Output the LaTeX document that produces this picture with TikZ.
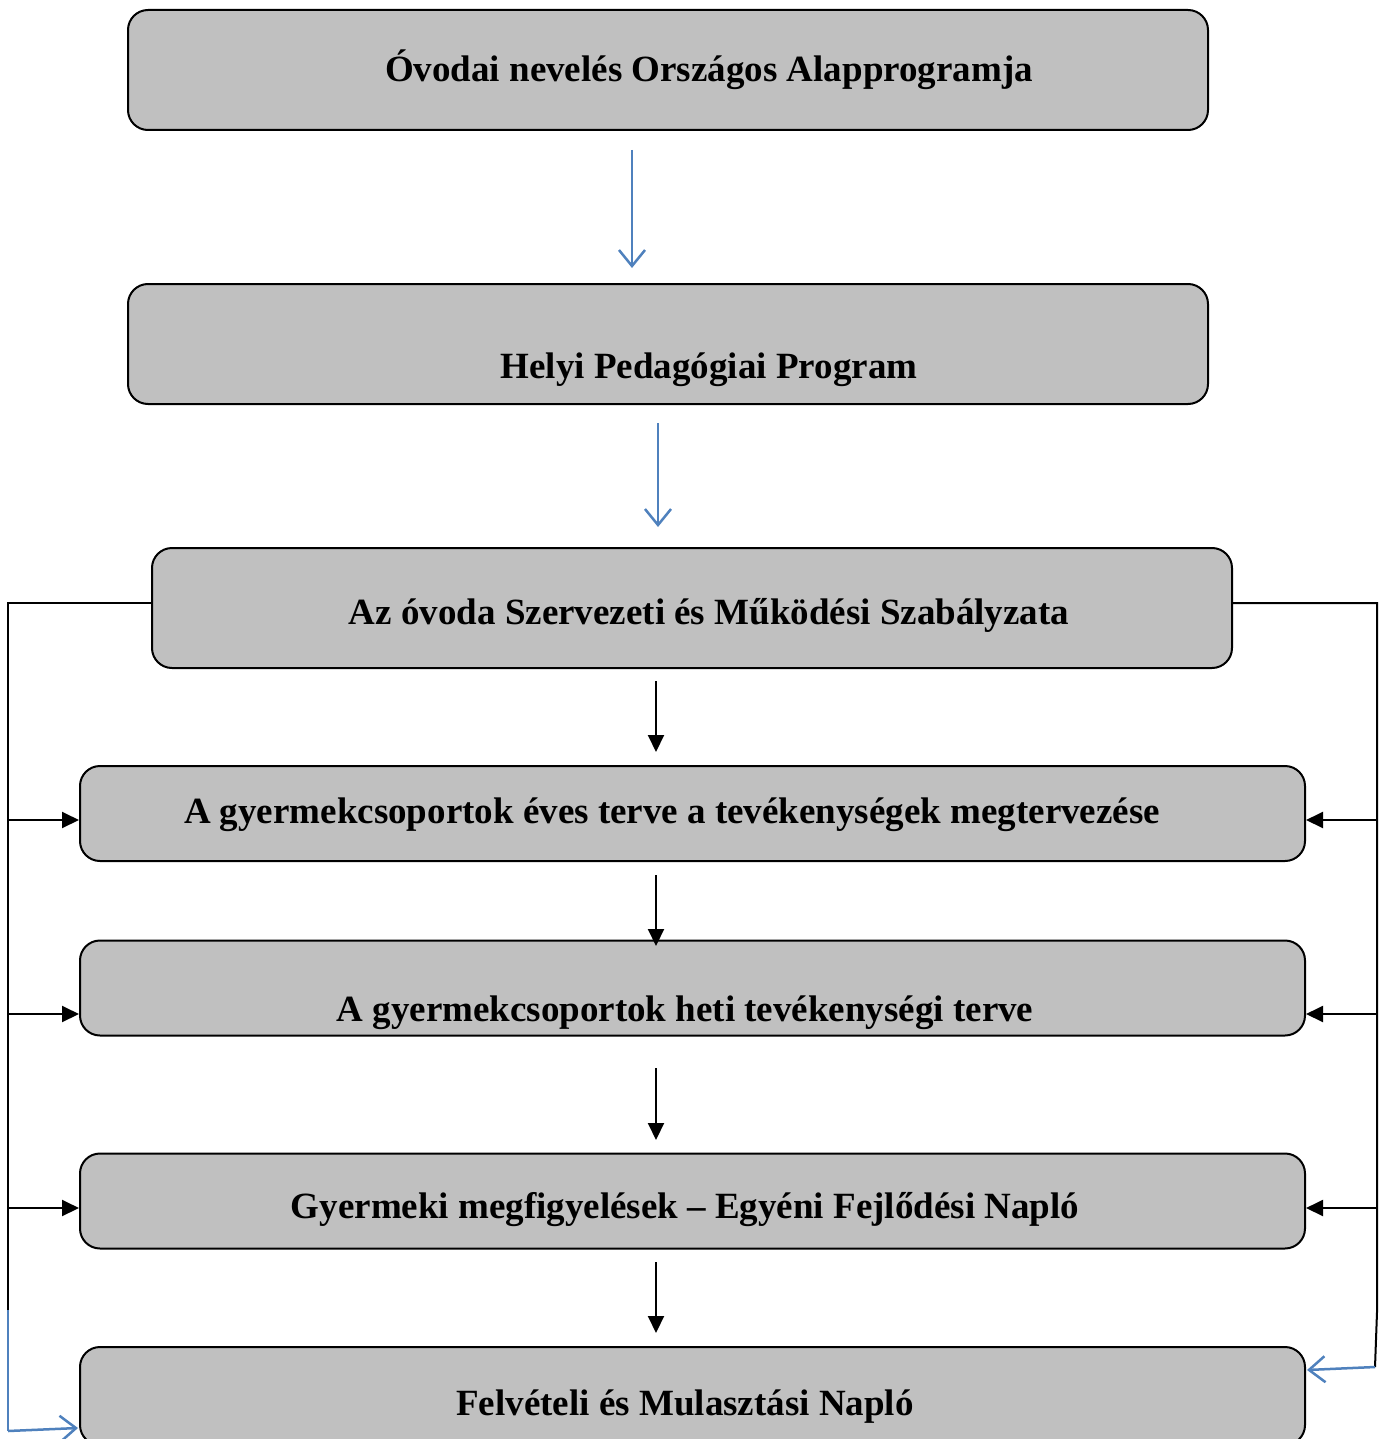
\documentclass[tikz,border=0pt]{standalone}
\usepackage{fontspec}
\setmainfont{Liberation Serif}
\usetikzlibrary{arrows.meta}
\definecolor{boxgray}{RGB}{192,192,192}
\definecolor{arrblue}{RGB}{79,129,189}
\tikzset{
  box/.style={draw=black, line width=2pt, fill=boxgray, rounded corners=20pt, inner sep=0pt},
  lbl/.style={font=\bfseries\fontsize{37}{44}\selectfont, inner sep=0pt, anchor=base},
  blk/.style={draw=black, line width=2pt, -{Triangle[length=17pt,width=16pt]}},
  blkline/.style={draw=black, line width=2pt},
  blu/.style={draw=arrblue, line width=2.5pt, -{Straight Barb[length=16pt,width=26pt,line width=2.5pt]}},
  bluline/.style={draw=arrblue, line width=2.5pt}
}
\begin{document}
\begin{tikzpicture}[x=1pt,y=-1pt]
\clip (0,0) rectangle (1385,1439);
\fill[white] (0,0) rectangle (1385,1439);
% boxes
\node[box, minimum width=1080pt, minimum height=120pt] (b1) at (668,70) {};
\node[box, minimum width=1080pt, minimum height=120pt] (b2) at (668,344) {};
\node[box, minimum width=1080pt, minimum height=120pt] (b3) at (692,608) {};
\node[box, minimum width=1225pt, minimum height=95pt] (b4) at (692.5,813.5) {};
\node[box, minimum width=1225pt, minimum height=95pt] (b5) at (692.5,988) {};
\node[box, minimum width=1225pt, minimum height=95pt] (b6) at (692.5,1201) {};
\node[box, minimum width=1225pt, minimum height=98pt] (b7) at (692.5,1396) {};
% labels
\node[lbl] (t1) at (709,82) {Óvodai nevelés Országos Alapprogramja};
\node[lbl] (t2) at (709,378) {Helyi Pedagógiai Program};
\node[lbl] (t3) at (709,624) {Az óvoda Szervezeti és Működési Szabályzata};
\node[lbl] (t4) at (672,823) {A gyermekcsoportok éves terve a tevékenységek megtervezése};
\node[lbl] (t5) at (685,1021) {A gyermekcsoportok heti tevékenységi terve};
\node[lbl] (t6) at (685,1218) {Gyermeki megfigyelések – Egyéni Fejlődési Napló};
\node[lbl] (t7) at (685,1415) {Felvételi és Mulasztási Napló};
% coordinates
\coordinate (a1s) at (632,150); \coordinate (a1e) at (632,268);
\coordinate (a2s) at (658,423); \coordinate (a2e) at (658,527);
\coordinate (a3s) at (656,681); \coordinate (a3e) at (656,752);
\coordinate (a4s) at (656,875); \coordinate (a4e) at (656,946);
\coordinate (a5s) at (656,1068); \coordinate (a5e) at (656,1140);
\coordinate (a6s) at (656,1262); \coordinate (a6e) at (656,1333);
\coordinate (L0) at (8,603);
\coordinate (L4) at (8,820);
\coordinate (L5) at (8,1014);
\coordinate (L6) at (8,1208);
\coordinate (Lb) at (8,1310);
\coordinate (Lc) at (8,1431);
\coordinate (R0) at (1377,603);
\coordinate (R4) at (1377,820);
\coordinate (R5) at (1377,1014);
\coordinate (R6) at (1377,1208);
\coordinate (Rb) at (1377,1312);
\coordinate (Rc) at (1375,1367);
% vertical arrows
\draw[blu] (a1s) -- (a1e);
\draw[blu] (a2s) -- (a2e);
\draw[blk] (a3s) -- (a3e);
\draw[blk] (a4s) -- (a4e);
\draw[blk] (a5s) -- (a5e);
\draw[blk] (a6s) -- (a6e);
% left side
\draw[blkline] (b3.west |- L0) -- (L0) -- (Lb);
\draw[blk] (L4) -- (b4.west |- L4);
\draw[blk] (L5) -- (b5.west |- L5);
\draw[blk] (L6) -- (b6.west |- L6);
\draw[bluline] (Lb) -- (Lc);
\draw[blu] (Lc) -- (78,1428);
% right side
\draw[blkline] (b3.east |- R0) -- (R0) -- (Rb) -- (Rc);
\draw[blk] (R4) -- (b4.east |- R4);
\draw[blk] (R5) -- (b5.east |- R5);
\draw[blk] (R6) -- (b6.east |- R6);
\draw[blu] (Rc) -- (1307,1370);
\end{tikzpicture}
\end{document}
